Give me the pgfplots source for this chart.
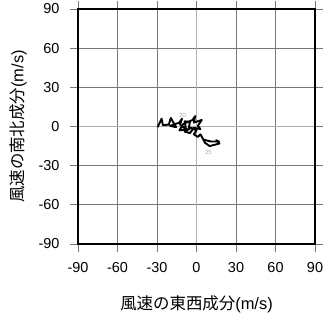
\documentclass[border=0pt]{standalone}
\usepackage{fontspec}
\setmainfont{Liberation Sans}
\newfontfamily\cjk{Noto Sans CJK JP}
\usepackage{pgfplots}
\pgfplotsset{compat=1.18}
\definecolor{gridc}{RGB}{120,120,120}
\definecolor{zeroc}{RGB}{175,175,175}
\begin{document}
\begin{tikzpicture}
\begin{axis}[
  name=ax,
  scale only axis,
  width=237bp, height=235bp,
  xmin=-90, xmax=90, ymin=-90, ymax=90,
  xtick={-90,-60,...,90}, ytick={-90,-60,...,90},
  grid=major,
  major grid style={gridc, line width=0.7pt},
  tick style={gridc, line width=0.7pt},
  major tick length=8bp,
  tick align=outside,
  axis line style={black, line width=1.8pt},
  /pgf/number format/assume math mode=true,
  ticklabel style={font=\fontsize{14.5}{16}\selectfont},
  xticklabel style={yshift=-7bp},
  yticklabel style={xshift=-7bp},
  xlabel={\cjk 風速の東西成分\rmfamily(m/s)},
  ylabel={\cjk 風速の南北成分\rmfamily(m/s)},
  label style={font=\fontsize{16.5}{18}\selectfont},
  xlabel style={yshift=-16bp},
  ylabel style={yshift=5bp},
  clip=false,
]
\addplot[zeroc, line width=1.2pt, forget plot] coordinates {(0,-90) (0,90)};
\addplot[zeroc, line width=1.2pt, forget plot] coordinates {(-90,0) (90,0)};
\draw[black, line width=1.8pt] (axis cs:-90,-90) rectangle (axis cs:90,90);
\addplot[black, line width=1.9pt, line join=round] coordinates {
(-29.5,-0.5) (-26.5,6) (-25.5,1) (-21,1.5) (-19.5,6.5) (-15.5,-0.5)
(-20,0.5) (-13,3) (-11,6) (-12.5,1.5) (-8,-2) (-9,4) (-5,3.5)
(-6,-2) (-13,-3) (-10,2) (-3,5) (-1,8) (-2,3) (4,5) (1,0.5)
(3,-2) (-2,-1) (-5,-5) (-9,-4) (-4,-1) (0,-3) (-2,-6) (1,-8)
(3,-6) (6.5,-12.5) (10,-15) (17.5,-13) (15,-10.5) (17,-11.5)
(11,-11.5) (5,-10)
};
\node[zeroc, font=\fontsize{6}{7}\selectfont] at (axis cs:-10.5,8.5) {20};
\node[zeroc, font=\fontsize{6}{7}\selectfont] at (axis cs:9,-19.5) {25};
\end{axis}
\pgfresetboundingbox
\path ([shift={(-78bp,-69bp)}]ax.south west) rectangle ([shift={(8bp,9bp)}]ax.north east);
\end{tikzpicture}
\end{document}
